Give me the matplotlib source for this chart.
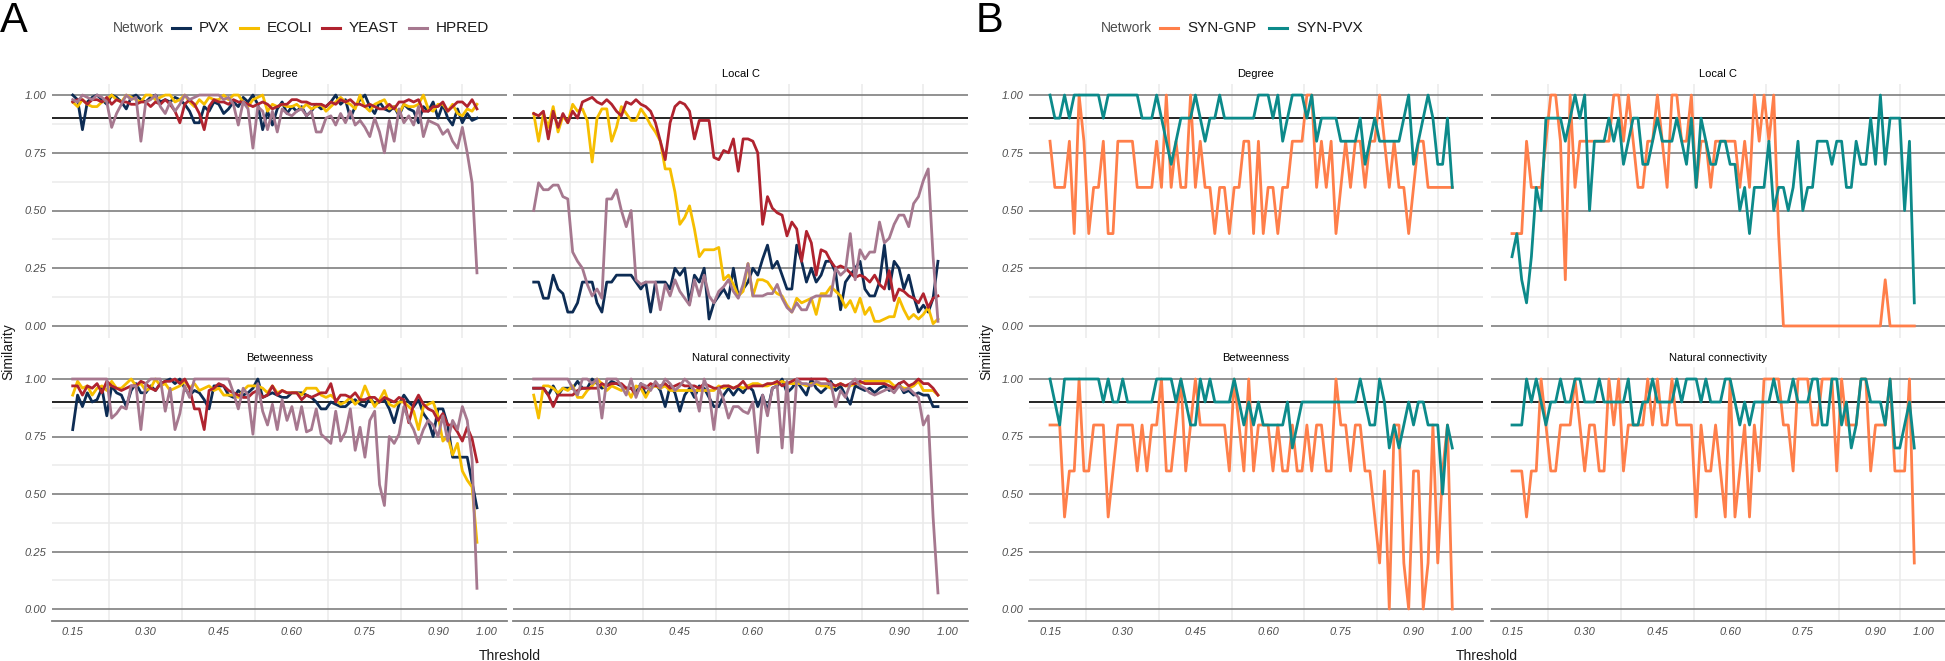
import numpy as np
import matplotlib
matplotlib.use("Agg")
import matplotlib.pyplot as plt
from matplotlib.lines import Line2D

plt.rcParams['font.family'] = ['Liberation Sans', 'DejaVu Sans']

# thresholds 0.15 .. 0.98
threshold = np.round(np.arange(0.15, 0.985, 0.01), 2)

x_breaks = [0.15, 0.30, 0.45, 0.60, 0.75, 0.90, 1.00]
x_labels = ['0.15', '0.30', '0.45', '0.60', '0.75', '0.90', '1.00']
x_minor = [0.225, 0.375, 0.525, 0.675, 0.825, 0.95]
y_breaks = [0.0, 0.25, 0.5, 0.75, 1.0]
y_labels = ['0.00', '0.25', '0.50', '0.75', '1.00']
y_minor = [0.125, 0.375, 0.625, 0.875]

metrics = ['Degree', 'Local C', 'Betweenness', 'Natural connectivity']

# ---- panel A (values in percent) ----
networks_a = ['PVX', 'ECOLI', 'YEAST', 'HPRED']
colors_a = ['#0d2c54', '#f6be00', '#b0232f', '#a6788f']

pvx_deg = [100, 98, 85, 97, 99, 100, 98, 96, 100, 99,
           97, 94, 99, 100, 98, 97, 99, 100, 97, 98,
           97, 99, 98, 96, 93, 88, 88, 95, 93, 97,
           96, 92, 94, 97, 95, 99, 97, 100, 96, 85,
           93, 87, 94, 97, 92, 95, 93, 95, 91, 93,
           96, 94, 95, 97, 100, 96, 98, 90, 95, 98,
           100, 95, 92, 97, 94, 93, 95, 91, 96, 94,
           93, 88, 95, 93, 97, 90, 96, 90, 87, 94,
           88, 92, 89, 90]
ecoli_deg = [97, 95, 98, 96, 95, 95, 97, 98, 100, 98,
             97, 100, 99, 98, 97, 100, 100, 98, 99, 100,
             100, 97, 98, 100, 97, 95, 98, 96, 99, 98,
             98, 100, 98, 100, 100, 97, 95, 98, 99, 100,
             93, 96, 95, 96, 95, 95, 96, 94, 96, 94,
             95, 96, 93, 95, 97, 99, 97, 96, 94, 100,
             95, 93, 96, 97, 98, 94, 95, 92, 96, 95,
             95, 96, 100, 94, 93, 96, 96, 93, 96, 92,
             91, 94, 93, 96]
yeast_deg = [97, 98, 98, 96, 98, 98, 97, 99, 96, 98,
             97, 97, 96, 96, 97, 97, 95, 97, 96, 98,
             96, 93, 88, 96, 98, 96, 92, 85, 95, 98,
             97, 97, 96, 98, 97, 97, 96, 95, 96, 97,
             96, 94, 95, 96, 96, 98, 98, 97, 97, 96,
             96, 96, 95, 97, 96, 98, 97, 98, 96, 96,
             95, 96, 95, 94, 94, 96, 94, 97, 97, 98,
             97, 98, 93, 93, 95, 95, 97, 93, 95, 97,
             97, 95, 98, 94]
hpred_deg = [98, 97, 100, 99, 98, 100, 99, 97, 86, 92,
             96, 100, 98, 99, 80, 97, 98, 100, 95, 92,
             97, 93, 96, 100, 98, 99, 100, 100, 100, 100,
             100, 98, 99, 96, 87, 97, 94, 77, 95, 93,
             85, 93, 84, 94, 92, 91, 93, 94, 91, 93,
             84, 84, 90, 91, 87, 92, 88, 93, 87, 89,
             86, 82, 90, 84, 75, 89, 80, 94, 88, 91,
             87, 95, 82, 89, 88, 87, 83, 85, 80, 77,
             86, 75, 62, 23]

pvx_lc = [19, 19, 12, 12, 22, 16, 14, 6, 6, 10,
          19, 19, 19, 10, 6, 19, 19, 22, 22, 22,
          22, 19, 16, 19, 6, 19, 19, 19, 16, 25,
          22, 25, 10, 22, 19, 25, 3, 10, 13, 16,
          12, 25, 13, 16, 19, 25, 22, 29, 35, 25,
          28, 22, 16, 16, 35, 28, 19, 25, 19, 22,
          28, 28, 23, 7, 19, 22, 25, 28, 16, 13,
          13, 19, 35, 16, 28, 25, 16, 22, 13, 6,
          9, 6, 12, 28]
ecoli_lc = [92, 80, 92, 86, 95, 84, 91, 88, 96, 93,
            94, 89, 71, 90, 94, 94, 80, 86, 95, 92,
            89, 89, 94, 91, 87, 84, 80, 68, 68, 58,
            44, 47, 52, 42, 30, 33, 33, 33, 34, 20,
            22, 18, 13, 15, 27, 13, 20, 20, 19, 16,
            14, 13, 9, 6, 12, 10, 11, 12, 5, 14,
            14, 17, 15, 13, 8, 11, 6, 12, 5, 8,
            2, 2, 3, 4, 4, 12, 7, 3, 5, 3,
            5, 8, 1, 3]
yeast_lc = [92, 91, 93, 81, 93, 86, 92, 88, 93, 90,
            97, 98, 99, 97, 96, 98, 96, 93, 91, 97,
            96, 98, 96, 95, 93, 88, 80, 72, 88, 95,
            97, 96, 93, 81, 89, 89, 89, 73, 72, 76,
            75, 81, 67, 81, 81, 80, 75, 44, 56, 51,
            49, 48, 39, 45, 42, 28, 41, 36, 22, 33,
            32, 28, 25, 26, 25, 23, 21, 22, 21, 19,
            22, 18, 16, 24, 11, 16, 15, 13, 12, 10,
            14, 8, 12, 13]
hpred_lc = [50, 62, 59, 59, 61, 61, 56, 55, 32, 28,
            25, 18, 13, 16, 12, 55, 55, 59, 50, 43,
            50, 20, 18, 19, 19, 19, 7, 18, 13, 20,
            15, 12, 9, 20, 13, 22, 13, 10, 15, 17,
            20, 15, 12, 18, 27, 13, 13, 13, 14, 14,
            18, 12, 8, 6, 10, 7, 7, 12, 13, 13,
            13, 13, 25, 22, 24, 40, 20, 33, 29, 32,
            32, 45, 36, 38, 44, 48, 48, 43, 53, 56,
            63, 68, 30, 2]

pvx_bt = [78, 93, 88, 94, 90, 91, 96, 84, 97, 94,
          93, 88, 95, 98, 94, 94, 97, 95, 98, 99,
          100, 98, 100, 96, 93, 95, 94, 91, 87, 97,
          97, 97, 93, 92, 95, 93, 94, 96, 100, 92,
          93, 94, 93, 92, 92, 94, 94, 94, 93, 92,
          90, 87, 87, 90, 89, 88, 88, 90, 91, 89,
          88, 92, 89, 90, 91, 87, 81, 89, 93, 90,
          88, 91, 85, 82, 75, 87, 87, 80, 66, 66,
          66, 66, 55, 44]
ecoli_bt = [93, 99, 96, 97, 93, 96, 97, 95, 99, 96,
            96, 98, 100, 97, 98, 95, 96, 100, 97, 98,
            95, 96, 97, 99, 96, 98, 95, 96, 97, 95,
            96, 93, 93, 93, 92, 95, 97, 97, 97, 96,
            94, 97, 94, 95, 94, 94, 94, 93, 96, 96,
            96, 93, 92, 93, 91, 89, 90, 92, 89, 91,
            97, 92, 88, 91, 95, 89, 88, 90, 90, 88,
            86, 78, 88, 89, 90, 84, 73, 75, 67, 72,
            60, 56, 53, 29]
yeast_bt = [97, 97, 93, 97, 96, 98, 94, 99, 97, 96,
            95, 96, 97, 97, 99, 98, 96, 95, 98, 99,
            99, 100, 98, 100, 96, 87, 87, 78, 95, 96,
            98, 97, 95, 94, 93, 92, 92, 94, 95, 92,
            93, 97, 93, 95, 94, 94, 94, 91, 93, 92,
            93, 94, 94, 98, 90, 93, 93, 92, 94, 91,
            91, 92, 92, 90, 92, 91, 90, 92, 91, 81,
            89, 93, 89, 87, 86, 82, 85, 80, 80, 77,
            73, 79, 74, 64]
hpred_bt = [100, 100, 100, 100, 100, 100, 100, 100, 83, 85,
            88, 87, 97, 97, 78, 98, 100, 100, 100, 86,
            96, 78, 85, 97, 92, 100, 100, 100, 100, 100,
            100, 100, 100, 94, 87, 96, 93, 76, 98, 86,
            80, 89, 78, 91, 82, 88, 78, 88, 77, 78,
            87, 76, 74, 72, 86, 73, 77, 87, 69, 79,
            66, 82, 86, 54, 45, 75, 72, 76, 88, 82,
            78, 72, 78, 82, 80, 75, 84, 73, 82, 78,
            88, 82, 65, 9]

pvx_nc = [96, 96, 96, 93, 97, 93, 96, 96, 96, 99,
          96, 96, 100, 98, 96, 97, 99, 98, 97, 96,
          96, 94, 98, 93, 96, 98, 95, 88, 97, 94,
          86, 93, 96, 92, 97, 96, 92, 88, 88, 93,
          96, 93, 96, 94, 97, 95, 88, 93, 86, 96,
          97, 100, 94, 96, 99, 96, 93, 100, 96, 94,
          96, 99, 95, 97, 93, 89, 97, 96, 95, 96,
          94, 96, 97, 95, 96, 98, 94, 95, 93, 94,
          93, 93, 88, 88]
ecoli_nc = [93, 83, 97, 97, 96, 94, 96, 95, 97, 92,
            92, 95, 97, 100, 98, 95, 97, 96, 95, 96,
            92, 97, 96, 92, 96, 97, 96, 97, 95, 95,
            95, 95, 95, 95, 95, 95, 95, 95, 97, 96,
            97, 96, 97, 96, 97, 98, 98, 97, 97, 98,
            98, 99, 98, 98, 98, 98, 97, 98, 98, 97,
            97, 96, 97, 98, 97, 97, 98, 98, 99, 99,
            99, 99, 99, 99, 97, 97, 96, 96, 97, 99,
            95, 95, 95, 93]
yeast_nc = [96, 96, 96, 93, 88, 93, 93, 93, 93, 95,
            96, 96, 96, 96, 98, 97, 98, 98, 98, 96,
            96, 93, 97, 96, 98, 97, 97, 98, 96, 97,
            98, 97, 97, 97, 96, 98, 97, 96, 96, 97,
            97, 96, 97, 99, 96, 97, 97, 97, 98, 98,
            99, 97, 98, 99, 100, 100, 100, 100, 100, 100,
            100, 98, 97, 98, 97, 98, 98, 99, 98, 98,
            98, 98, 98, 97, 96, 98, 99, 97, 98, 100,
            98, 98, 96, 93]
hpred_nc = [100, 100, 100, 100, 100, 100, 100, 100, 96, 93,
            100, 100, 98, 100, 83, 100, 100, 100, 97, 93,
            100, 92, 98, 97, 95, 99, 96, 100, 98, 95,
            97, 100, 98, 95, 86, 100, 94, 78, 96, 91,
            83, 88, 88, 86, 85, 90, 68, 93, 84, 96,
            97, 70, 99, 68, 100, 98, 98, 97, 99, 98,
            98, 98, 88, 95, 92, 98, 100, 97, 96, 94,
            93, 94, 95, 96, 94, 97, 95, 96, 94, 92,
            80, 84, 40, 7]

# ---- panel B (values in tenths) ----
networks_b = ['SYN-GNP', 'SYN-PVX']
colors_b = ['#ff7f4a', '#0c8a8a']

gnp_deg = [8, 6, 6, 6, 8, 4, 10, 8, 4, 6,
           6, 8, 4, 4, 8, 8, 8, 8, 6, 6,
           6, 6, 8, 6, 10, 6, 8, 6, 6, 10,
           6, 8, 6, 6, 4, 6, 6, 4, 6, 6,
           8, 8, 4, 8, 4, 6, 6, 4, 6, 6,
           8, 8, 8, 10, 10, 6, 8, 6, 8, 4,
           6, 8, 6, 8, 8, 6, 8, 8, 10, 8,
           6, 8, 6, 6, 4, 6, 8, 8, 6, 6,
           6, 6, 6, 6]
spvx_deg = [10, 9, 9, 10, 9, 10, 10, 10, 10, 10,
            10, 9, 10, 10, 10, 10, 10, 10, 10, 9,
            9, 9, 10, 9, 8, 7, 8, 9, 9, 9,
            10, 9, 8, 9, 9, 10, 9, 9, 9, 9,
            9, 9, 9, 10, 10, 10, 9, 10, 8, 9,
            10, 10, 10, 9, 10, 8, 9, 9, 9, 9,
            8, 8, 8, 8, 9, 7, 8, 9, 8, 8,
            8, 8, 8, 9, 10, 7, 8, 9, 10, 9,
            7, 7, 9, 6]

gnp_lc = [4, 4, 4, 8, 6, 6, 6, 8, 10, 10,
          8, 2, 10, 6, 8, 8, 8, 8, 8, 8,
          8, 10, 10, 8, 10, 8, 6, 6, 8, 8,
          10, 8, 6, 10, 10, 8, 8, 10, 6, 8,
          8, 6, 8, 8, 8, 8, 8, 6, 8, 6,
          10, 8, 10, 8, 10, 4, 0, 0, 0, 0,
          0, 0, 0, 0, 0, 0, 0, 0, 0, 0,
          0, 0, 0, 0, 0, 0, 0, 2, 0, 0,
          0, 0, 0, 0]
spvx_lc = [3, 4, 2, 1, 3, 6, 5, 9, 9, 9,
           9, 8, 9, 10, 9, 10, 5, 8, 8, 8,
           9, 8, 9, 7, 8, 9, 9, 7, 7, 8,
           9, 8, 8, 8, 9, 8, 7, 9, 6, 9,
           8, 7, 7, 8, 8, 7, 7, 5, 6, 4,
           6, 6, 6, 8, 5, 6, 6, 5, 6, 8,
           5, 6, 6, 8, 8, 8, 7, 8, 8, 6,
           6, 8, 7, 7, 9, 7, 10, 7, 9, 9,
           9, 5, 8, 1]

gnp_bt = [8, 8, 8, 4, 6, 6, 10, 6, 6, 8,
          8, 8, 4, 6, 8, 8, 8, 8, 6, 8,
          6, 8, 8, 10, 6, 6, 8, 10, 6, 8,
          10, 8, 8, 8, 8, 8, 8, 6, 10, 8,
          6, 10, 6, 8, 8, 8, 6, 8, 6, 6,
          8, 6, 6, 8, 6, 8, 8, 6, 6, 10,
          8, 8, 6, 8, 8, 6, 6, 4, 2, 6,
          0, 8, 8, 2, 0, 6, 6, 0, 2, 8,
          2, 6, 8, 0]
spvx_bt = [10, 9, 8, 10, 10, 10, 10, 10, 10, 10,
           10, 9, 10, 9, 9, 10, 9, 9, 9, 9,
           9, 9, 10, 10, 10, 10, 9, 10, 9, 8,
           8, 10, 9, 10, 9, 9, 9, 9, 10, 9,
           8, 9, 8, 9, 8, 8, 8, 8, 8, 9,
           7, 8, 9, 9, 9, 9, 9, 9, 9, 9,
           9, 9, 9, 9, 10, 9, 8, 8, 10, 9,
           7, 8, 7, 8, 9, 8, 9, 9, 8, 8,
           8, 5, 8, 7]

gnp_nc = [6, 6, 6, 4, 6, 6, 10, 8, 6, 6,
          8, 8, 8, 10, 8, 6, 8, 8, 6, 6,
          10, 8, 10, 6, 8, 8, 8, 8, 10, 8,
          10, 8, 8, 10, 8, 8, 8, 8, 4, 8,
          6, 6, 8, 6, 4, 10, 4, 6, 8, 4,
          8, 6, 10, 10, 10, 10, 8, 8, 6, 10,
          10, 10, 8, 8, 10, 10, 10, 6, 10, 8,
          8, 8, 10, 10, 6, 8, 8, 8, 10, 6,
          6, 6, 10, 2]
spvx_nc = [8, 8, 8, 10, 9, 10, 9, 8, 9, 9,
           10, 9, 9, 10, 10, 9, 9, 9, 10, 9,
           9, 9, 9, 9, 10, 8, 8, 9, 9, 10,
           9, 9, 9, 9, 10, 9, 10, 10, 10, 9,
           10, 9, 9, 9, 10, 10, 9, 8, 9, 8,
           9, 9, 9, 9, 10, 9, 9, 9, 10, 9,
           9, 9, 10, 10, 8, 8, 10, 10, 8, 9,
           7, 8, 10, 10, 9, 9, 9, 8, 10, 7,
           7, 8, 9, 7]

panel_a = {
    'Degree': [pvx_deg, ecoli_deg, yeast_deg, hpred_deg],
    'Local C': [pvx_lc, ecoli_lc, yeast_lc, hpred_lc],
    'Betweenness': [pvx_bt, ecoli_bt, yeast_bt, hpred_bt],
    'Natural connectivity': [pvx_nc, ecoli_nc, yeast_nc, hpred_nc],
}
panel_b = {
    'Degree': [gnp_deg, spvx_deg],
    'Local C': [gnp_lc, spvx_lc],
    'Betweenness': [gnp_bt, spvx_bt],
    'Natural connectivity': [gnp_nc, spvx_nc],
}

W, H = 1945, 661
fig = plt.figure(figsize=(W / 100, H / 100), dpi=100)

GRID_DARK = '#7f7f7f'
GRID_LIGHT = '#ebebeb'
TICK_COL = '#4d4d4d'


def px_axes(x0, x1, ytop, ybot):
    return fig.add_axes([x0 / W, 1 - ybot / H, (x1 - x0) / W, (ybot - ytop) / H])


def draw_facet(ax, series, colors, scale, title, show_x, show_y):
    ax.set_xlim(0.1075, 1.0425)
    ax.set_ylim(-0.05, 1.05)
    ax.set_xticks(x_breaks)
    ax.set_xticks(x_minor, minor=True)
    ax.set_yticks(y_breaks)
    ax.set_yticks(y_minor, minor=True)
    ax.set_axisbelow(True)
    ax.grid(which='minor', color=GRID_LIGHT, lw=1.1)
    ax.grid(which='major', axis='y', color=GRID_DARK, lw=1.2)
    ax.tick_params(which='both', length=0)
    for s in ax.spines.values():
        s.set_visible(False)
    if show_x:
        ax.spines['bottom'].set_visible(True)
        ax.spines['bottom'].set_color(GRID_DARK)
        ax.spines['bottom'].set_linewidth(1.3)
        ax.set_xticklabels(x_labels, fontstyle='italic', color=TICK_COL, fontsize=8)
        ax.tick_params(axis='x', pad=4.5)
    else:
        ax.set_xticklabels([])
    if show_y:
        ax.set_yticklabels(y_labels, fontstyle='italic', color=TICK_COL, fontsize=8)
        ax.tick_params(axis='y', pad=4)
    else:
        ax.set_yticklabels([])
    ax.axhline(0.9, color='black', lw=1.2, zorder=1.5)
    for vals, col in zip(series, colors):
        ax.plot(threshold, np.array(vals) / scale, color=col, lw=2.0, zorder=2,
                solid_joinstyle='round')
    ax.set_title(title, fontsize=8, pad=5)


rows = [(83.5, 337.5), (367.5, 620.5)]
cols_a = [(52, 507.4), (513, 968.4)]
cols_b = [(1029.4, 1482.6), (1491.4, 1944.6)]

for k, metric in enumerate(metrics):
    r, c = divmod(k, 2)
    ax = px_axes(cols_a[c][0], cols_a[c][1], rows[r][0], rows[r][1])
    draw_facet(ax, panel_a[metric], colors_a, 100.0, metric, r == 1, c == 0)
    ax = px_axes(cols_b[c][0], cols_b[c][1], rows[r][0], rows[r][1])
    draw_facet(ax, panel_b[metric], colors_b, 10.0, metric, r == 1, c == 0)

# axis titles
for xc in [(52 + 968.4) / 2, (1029.4 + 1944.6) / 2]:
    fig.text(xc / W, 1 - 649 / H, 'Threshold', ha='center', va='top', fontsize=10, color='#1a1a1a')
for xc in [8, 986]:
    fig.text(xc / W, 1 - 352 / H, 'Similarity', ha='center', va='center', rotation=90,
             fontsize=10, color='#1a1a1a')

# panel tags
fig.text(0 / W, 1 - 1 / H, 'A', ha='left', va='top', fontsize=30)
fig.text(976 / W, 1 - 1 / H, 'B', ha='left', va='top', fontsize=30)


def legend_row(x_title, x_keys, labels, colors):
    yc = 1 - 28 / H
    fig.text(x_title / W, yc, 'Network', ha='left', va='center', fontsize=10, color='#4d4d4d')
    for xk, lab, col in zip(x_keys, labels, colors):
        fig.add_artist(Line2D([xk / W, (xk + 18) / W], [yc, yc], color=col, lw=2.2,
                              transform=fig.transFigure))
        fig.text((xk + 27) / W, yc, lab, ha='left', va='center', fontsize=11, color='#1a1a1a')


legend_row(113, [172, 240, 322, 409], networks_a, colors_a)
legend_row(1101, [1160, 1269], networks_b, colors_b)

fig.savefig('out.png', dpi=100)
